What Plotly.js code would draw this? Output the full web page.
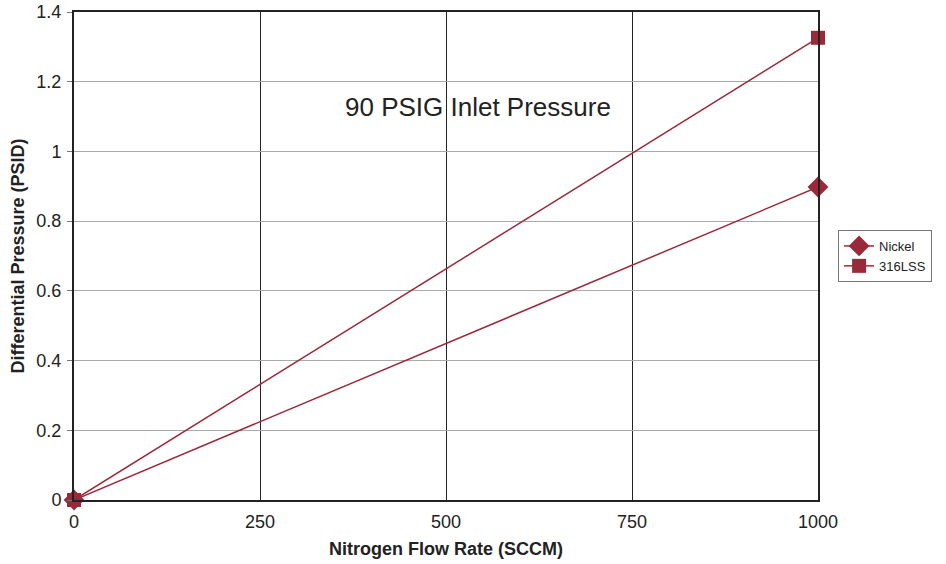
<!DOCTYPE html>
<html><head><meta charset="utf-8">
<script src="https://cdn.plot.ly/plotly-3.0.1.min.js"></script>
<style>html,body{margin:0;padding:0;background:#fff}#c{width:946px;height:564px}</style>
</head><body><div id="c"></div>
<script>
const flow = [0, 1000];
const nickel = [0, 0.898];
const ss316 = [0, 1.326];
const xTicks = [0, 250, 500, 750, 1000];
const yTicks = [0, 0.2, 0.4, 0.6, 0.8, 1, 1.2, 1.4];
const red = '#9a2a3a';
const font = 'Liberation Sans, Arial, sans-serif';

const traces = [
  {x: flow, y: nickel, name: 'Nickel', mode: 'lines+markers',
   line: {color: red, width: 1.5}, marker: {symbol: 'diamond', size: 16, color: red}, cliponaxis: false},
  {x: flow, y: ss316, name: '316LSS', mode: 'lines+markers',
   line: {color: red, width: 1.5}, marker: {symbol: 'square', size: 14, color: red}, cliponaxis: false}
];
const layout = {
  width: 946, height: 564,
  margin: {l: 74, r: 128, t: 12, b: 64},
  paper_bgcolor: '#fff', plot_bgcolor: '#fff',
  font: {family: font, color: '#222', size: 18},
  showlegend: true,
  legend: {x: 1.027, y: 0.5, xanchor: 'left', yanchor: 'middle', bordercolor: '#777', borderwidth: 1,
           font: {size: 13, color: '#222'}, bgcolor: '#fff', tracegroupgap: 0},
  xaxis: {range: [0, 1000], tickvals: xTicks, ticktext: xTicks.map(String), showgrid: true, gridcolor: '#222', gridwidth: 1,
          showline: true, linecolor: '#222', linewidth: 2, mirror: true, zeroline: false, ticks: '',
          ticklabelstandoff: 4,
          title: {text: '<b>Nitrogen Flow Rate (SCCM)</b>', font: {size: 18}, standoff: 12}},
  yaxis: {range: [0, 1.4], tickvals: yTicks, ticktext: yTicks.map(String), showgrid: true, gridcolor: '#aaa', gridwidth: 1,
          showline: true, linecolor: '#222', linewidth: 2, mirror: true, zeroline: false,
          ticks: 'outside', ticklen: 5, tickcolor: '#777', ticklabelstandoff: 2,
          title: {text: '<b>Differential Pressure (PSID)</b>', font: {size: 18}, standoff: 7}},
  annotations: [{x: 0.543, y: 0.805, xref: 'paper', yref: 'paper', xanchor: 'center', yanchor: 'middle',
                 text: '90 PSIG Inlet Pressure', showarrow: false, font: {size: 26, color: '#222'}}]
};
Plotly.newPlot('c', traces, layout, {displayModeBar: false});
</script></body></html>
